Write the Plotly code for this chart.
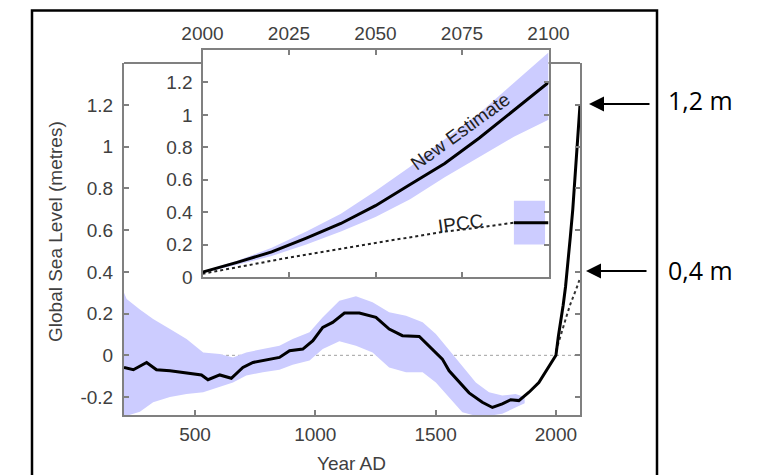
import plotly.graph_objects as go

W, H = 769, 475

# ---------------- data ----------------
# Reconstructed global sea level (main panel)
recon_years = [205, 244, 299, 340, 396, 465, 527, 554, 603, 651, 699, 741, 810, 851,
               893, 948, 990, 1031, 1072, 1121, 1183, 1252, 1307, 1362, 1432, 1473,
               1528, 1556, 1598, 1639, 1694, 1736, 1777, 1812, 1846, 1888, 1929, 1970, 2000]
recon_level = [-0.058, -0.069, -0.034, -0.069, -0.074, -0.085, -0.094, -0.117, -0.094,
               -0.110, -0.058, -0.034, -0.021, -0.010, 0.022, 0.030, 0.070, 0.134, 0.158,
               0.203, 0.203, 0.182, 0.126, 0.094, 0.090, 0.046, -0.018, -0.074, -0.130,
               -0.180, -0.225, -0.250, -0.233, -0.213, -0.217, -0.177, -0.130, -0.058, 0.0]

band_years = [205, 216, 271, 326, 396, 465, 534, 603, 658, 713, 782, 851, 906, 976, 1031,
              1100, 1169, 1238, 1307, 1377, 1446, 1501, 1556, 1611, 1667, 1722, 1777, 1832, 1870]
band_upper = [0.30, 0.27, 0.22, 0.174, 0.126, 0.078, 0.014, 0.006, -0.01, 0.014, 0.03, 0.046,
              0.078, 0.11, 0.182, 0.262, 0.283, 0.254, 0.206, 0.19, 0.158, 0.102, 0.025,
              -0.05, -0.13, -0.177, -0.193, -0.185, -0.20]
band_lower = [-0.29, -0.29, -0.27, -0.225, -0.20, -0.185, -0.177, -0.15, -0.13, -0.097,
              -0.081, -0.069, -0.045, -0.025, 0.03, 0.068, 0.046, 0.014, -0.058, -0.081,
              -0.081, -0.13, -0.20, -0.273, -0.29, -0.29, -0.28, -0.25, -0.23]

# Projections 2000-2100
proj_years = [2000, 2010, 2020, 2030, 2040, 2050, 2060, 2070, 2080, 2090, 2100]
new_estimate = [0.03, 0.09, 0.155, 0.24, 0.33, 0.44, 0.57, 0.70, 0.857, 1.03, 1.2]
new_upper = [0.035, 0.10, 0.18, 0.28, 0.39, 0.53, 0.68, 0.85, 1.01, 1.2, 1.385]
new_lower = [0.025, 0.075, 0.13, 0.20, 0.28, 0.37, 0.48, 0.615, 0.74, 0.865, 0.97]

ipcc_years = [2000, 2025, 2050, 2060, 2070, 2080, 2090, 2100]
ipcc_level = [0.02, 0.12, 0.21, 0.245, 0.28, 0.305, 0.335, 0.37]
ipcc_box_years = [2090, 2099]
ipcc_box_range = [0.20, 0.47]
ipcc_2100_years = [2090, 2100]
ipcc_2100_level = [0.335, 0.335]

main_xticks = [500, 1000, 1500, 2000]
main_yticks = [-0.2, 0, 0.2, 0.4, 0.6, 0.8, 1, 1.2]
main_yticktext = ["-0.2", "0", "0.2", "0.4", "0.6", "0.8", "1", "1.2"]
inset_xticks = [2000, 2025, 2050, 2075, 2100]
inset_yticks = [0, 0.2, 0.4, 0.6, 0.8, 1, 1.2]
inset_yticktext = ["0", "0.2", "0.4", "0.6", "0.8", "1", "1.2"]

# ---------------- layout geometry (pixels) ----------------
M_L, M_R, M_T, M_B = 124, 580, 63, 415
I_L, I_R, I_T, I_B = 202.5, 548.5, 50, 277

def px(x):
    return x / W

def py(y):
    return 1 - y / H

LAV = "#ccccff"
AX = "#808080"
TXT = "#404040"
FONT = "Liberation Sans, Arial, sans-serif"

fig = go.Figure()

# main panel
fig.add_trace(go.Scatter(x=band_years + band_years[::-1], y=band_upper + band_lower[::-1],
                         fill="toself", fillcolor=LAV, line=dict(width=0), mode="lines",
                         hoverinfo="skip", xaxis="x", yaxis="y"))
fig.add_trace(go.Scatter(x=ipcc_years, y=ipcc_level, mode="lines",
                         line=dict(color="#333", width=2, dash="dot"), xaxis="x", yaxis="y"))
fig.add_trace(go.Scatter(x=recon_years + proj_years[1:], y=recon_level + new_estimate[1:],
                         mode="lines", line=dict(color="black", width=3), xaxis="x", yaxis="y"))

# inset
fig.add_trace(go.Scatter(x=proj_years + proj_years[::-1], y=new_upper + new_lower[::-1],
                         fill="toself", fillcolor=LAV, line=dict(width=0), mode="lines",
                         hoverinfo="skip", xaxis="x2", yaxis="y2"))
fig.add_trace(go.Scatter(x=[ipcc_box_years[0], ipcc_box_years[1], ipcc_box_years[1], ipcc_box_years[0]],
                         y=[ipcc_box_range[0], ipcc_box_range[0], ipcc_box_range[1], ipcc_box_range[1]],
                         fill="toself", fillcolor=LAV, line=dict(width=0), mode="lines",
                         hoverinfo="skip", xaxis="x2", yaxis="y2"))
fig.add_trace(go.Scatter(x=ipcc_years[:-1], y=ipcc_level[:-1], mode="lines",
                         line=dict(color="#222", width=2, dash="dot"), xaxis="x2", yaxis="y2"))
fig.add_trace(go.Scatter(x=ipcc_2100_years, y=ipcc_2100_level, mode="lines",
                         line=dict(color="black", width=3), xaxis="x2", yaxis="y2"))
fig.add_trace(go.Scatter(x=proj_years, y=new_estimate, mode="lines",
                         line=dict(color="black", width=3), xaxis="x2", yaxis="y2"))

axis_common = dict(showline=True, linecolor=AX, linewidth=2, ticks="inside", ticklen=5,
                   tickcolor=AX, tickwidth=1.5, showgrid=False, zeroline=False,
                   automargin=False,
                   tickfont=dict(family=FONT, size=19, color=TXT))

fig.update_layout(
    width=W, height=H, margin=dict(l=0, r=0, t=0, b=0, pad=0, autoexpand=False),
    paper_bgcolor="white", plot_bgcolor="rgba(0,0,0,0)", showlegend=False,
    xaxis=dict(domain=[px(M_L), px(M_R)], range=[205, 2100], anchor="y",
               tickvals=main_xticks, ticklabelstandoff=1, **axis_common),
    yaxis=dict(domain=[py(M_B), py(M_T)], range=[-0.286, 1.401], anchor="x",
               tickvals=main_yticks, ticktext=main_yticktext, mirror="ticks",
               ticklabelstandoff=5, **axis_common),
    xaxis2=dict(domain=[px(I_L), px(I_R)], range=[2000, 2100], anchor="y2", side="top",
                tickvals=inset_xticks, mirror="ticks", ticklabelstandoff=0, **axis_common),
    yaxis2=dict(domain=[py(I_B), py(I_T)], range=[0, 1.4], anchor="x2",
                tickvals=inset_yticks, ticktext=inset_yticktext, mirror="ticks",
                ticklabelstandoff=4, **axis_common),
)

shapes = [
    # zero reference line in main panel
    dict(type="line", xref="x domain", yref="y", x0=0, x1=1, y0=0, y1=0,
         line=dict(color="#a0a0a0", width=1, dash="dot"), layer="below"),
    # main top frame segments not hidden by the inset
    dict(type="line", xref="paper", yref="paper", x0=px(M_L), x1=px(I_L), y0=py(M_T), y1=py(M_T),
         line=dict(color=AX, width=2)),
    dict(type="line", xref="paper", yref="paper", x0=px(I_R), x1=px(M_R), y0=py(M_T), y1=py(M_T),
         line=dict(color=AX, width=2)),
    # outer black frame
    dict(type="rect", xref="paper", yref="paper", x0=px(32), x1=px(657), y0=-0.1, y1=py(10.5),
         line=dict(color="black", width=2.5)),
]
fig.update_layout(shapes=shapes)

ann = [
    dict(text="Global Sea Level (metres)", xref="paper", yref="paper", x=px(56), y=py(232),
         xanchor="center", yanchor="middle",
         textangle=-90, showarrow=False, font=dict(family=FONT, size=19, color=TXT)),
    dict(text="Year AD", xref="paper", yref="paper", x=px(351), y=py(463),
         xanchor="center", yanchor="middle",
         showarrow=False, font=dict(family=FONT, size=19, color=TXT)),
    dict(text="New Estimate", xref="x2", yref="y2", x=2074.5, y=0.895, textangle=-36,
         xanchor="center", yanchor="middle",
         showarrow=False, font=dict(family=FONT, size=19, color="#222")),
    dict(text="IPCC", xref="x2", yref="y2", x=2074.5, y=0.33, textangle=-8,
         xanchor="center", yanchor="middle",
         showarrow=False, font=dict(family=FONT, size=19, color="#222")),
    dict(text="", xref="paper", yref="paper", x=px(589), y=py(104), ax=62, ay=0,
         showarrow=True, arrowhead=2, arrowsize=1.5, arrowwidth=2, arrowcolor="black"),
    dict(text="", xref="paper", yref="paper", x=px(586), y=py(271), ax=62, ay=0,
         showarrow=True, arrowhead=2, arrowsize=1.5, arrowwidth=2, arrowcolor="black"),
    dict(text="1,2 m", xref="paper", yref="paper", x=px(666), y=py(100), xanchor="left",
         yanchor="middle", showarrow=False, font=dict(family="Open Sans", size=25, color="black")),
    dict(text="0,4 m", xref="paper", yref="paper", x=px(666), y=py(270), xanchor="left",
         yanchor="middle", showarrow=False, font=dict(family="Open Sans", size=25, color="black")),
]
fig.update_layout(annotations=ann)

fig.write_html("out.html", config={"displayModeBar": False},
               post_script="document.body.style.margin='0';document.body.style.padding='0';")
